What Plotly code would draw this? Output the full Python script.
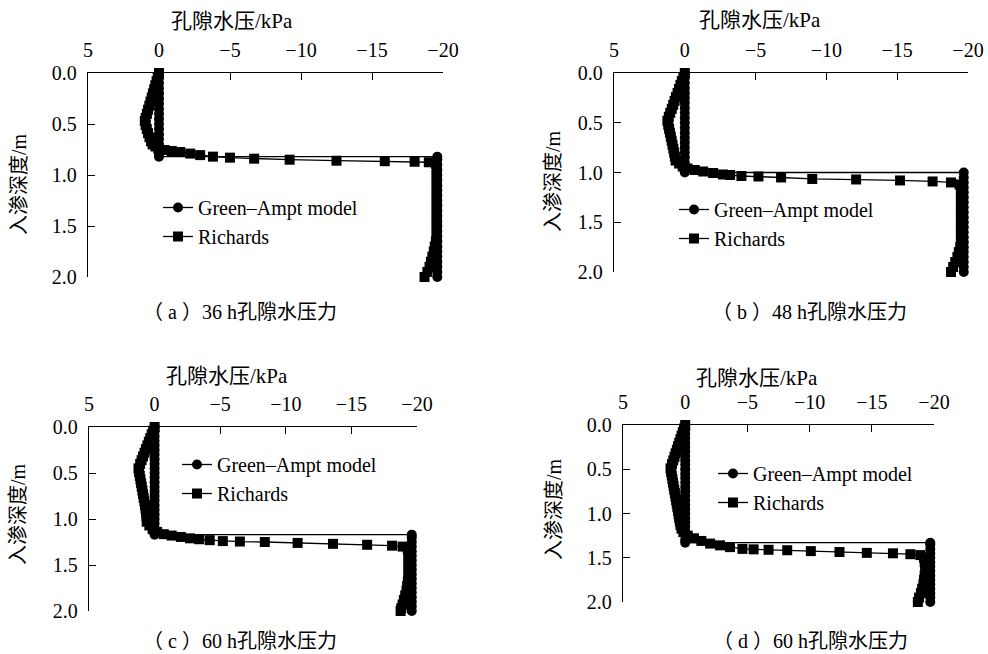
import plotly.graph_objects as go

# ---------------- text ----------------
X_TITLE = "孔隙水压/kPa"
Y_TITLE = "入渗深度/m"
SERIES_NAMES = ["Green–Ampt model", "Richards"]
CAPTIONS = ["（ a ）36 h孔隙水压力", "（ b ）48 h孔隙水压力", "（ c ）60 h孔隙水压力", "（ d ）60 h孔隙水压力"]
X_TICKS = [5, 0, -5, -10, -15, -20]
X_TICK_TEXT = ["5", "0", "−5", "−10", "−15", "−20"]
Y_TICKS = [0.0, 0.5, 1.0, 1.5, 2.0]
Y_TICK_TEXT = ["0.0", "0.5", "1.0", "1.5", "2.0"]

# ---------------- data: Green-Ampt model (pressure kPa, depth m) ----------------
GA_A_DEPTH = [0.00, 0.05, 0.10, 0.15, 0.20, 0.25, 0.30, 0.35, 0.40, 0.45, 0.50, 0.55, 0.60, 0.65, 0.70, 0.75, 0.80, 0.82,
              0.82, 0.85, 0.90, 0.95, 1.00, 1.05, 1.10, 1.15, 1.20, 1.25, 1.30, 1.35, 1.40, 1.45, 1.50, 1.55, 1.60, 1.65,
              1.70, 1.75, 1.80, 1.85, 1.90, 1.95, 2.00]
GA_A_PRESS = [0, 0, 0, 0, 0, 0, 0, 0, 0, 0, 0, 0, 0, 0, 0, 0, 0, 0,
              -19.6, -19.6, -19.6, -19.6, -19.6, -19.6, -19.6, -19.6, -19.6, -19.6, -19.6, -19.6, -19.6, -19.6, -19.6, -19.6, -19.6, -19.6,
              -19.6, -19.6, -19.6, -19.6, -19.6, -19.6, -19.6]

GA_B_DEPTH = [0.00, 0.05, 0.10, 0.15, 0.20, 0.25, 0.30, 0.35, 0.40, 0.45, 0.50, 0.55, 0.60, 0.65, 0.70, 0.75, 0.80, 0.85, 0.90, 0.95, 1.00,
              1.00, 1.05, 1.10, 1.15, 1.20, 1.25, 1.30, 1.35, 1.40, 1.45, 1.50, 1.55, 1.60, 1.65, 1.70, 1.75, 1.80, 1.85, 1.90, 1.95, 2.00]
GA_B_PRESS = [0, 0, 0, 0, 0, 0, 0, 0, 0, 0, 0, 0, 0, 0, 0, 0, 0, 0, 0, 0, 0,
              -19.7, -19.7, -19.7, -19.7, -19.7, -19.7, -19.7, -19.7, -19.7, -19.7, -19.7, -19.7, -19.7, -19.7, -19.7, -19.7, -19.7, -19.7, -19.7, -19.7, -19.7]

GA_C_DEPTH = [0.00, 0.05, 0.10, 0.15, 0.20, 0.25, 0.30, 0.35, 0.40, 0.45, 0.50, 0.55, 0.60, 0.65, 0.70, 0.75, 0.80, 0.85, 0.90, 0.95, 1.00, 1.05, 1.10, 1.15, 1.17,
              1.17, 1.20, 1.25, 1.30, 1.35, 1.40, 1.45, 1.50, 1.55, 1.60, 1.65, 1.70, 1.75, 1.80, 1.85, 1.90, 1.95, 2.00]
GA_C_PRESS = [0, 0, 0, 0, 0, 0, 0, 0, 0, 0, 0, 0, 0, 0, 0, 0, 0, 0, 0, 0, 0, 0, 0, 0, 0,
              -19.6, -19.6, -19.6, -19.6, -19.6, -19.6, -19.6, -19.6, -19.6, -19.6, -19.6, -19.6, -19.6, -19.6, -19.6, -19.6, -19.6, -19.6]

GA_D_DEPTH = [0.00, 0.05, 0.10, 0.15, 0.20, 0.25, 0.30, 0.35, 0.40, 0.45, 0.50, 0.55, 0.60, 0.65, 0.70, 0.75, 0.80, 0.85, 0.90, 0.95, 1.00, 1.05, 1.10, 1.15, 1.20, 1.25, 1.30, 1.33,
              1.33, 1.35, 1.40, 1.45, 1.50, 1.55, 1.60, 1.65, 1.70, 1.75, 1.80, 1.85, 1.90, 1.95, 2.00]
GA_D_PRESS = [0, 0, 0, 0, 0, 0, 0, 0, 0, 0, 0, 0, 0, 0, 0, 0, 0, 0, 0, 0, 0, 0, 0, 0, 0, 0, 0, 0,
              -19.7, -19.7, -19.7, -19.7, -19.7, -19.7, -19.7, -19.7, -19.7, -19.7, -19.7, -19.7, -19.7, -19.7, -19.7]

# ---------------- data: Richards (pressure kPa, depth m) ----------------
R_A_PRESS = [0.00, 0.09, 0.17, 0.26, 0.34, 0.43, 0.51, 0.60, 0.68, 0.77, 0.85, 0.94, 1.00,
             0.94, 0.86, 0.77, 0.67, 0.56, 0.45, 0.25, 0.05,
             -0.40, -0.90, -1.50, -2.20, -2.90, -3.80, -5.00, -6.70, -9.20, -12.50, -15.90, -18.00, -19.00, -19.50,
             -19.55, -19.55, -19.55, -19.55, -19.55, -19.55, -19.55, -19.55, -19.55, -19.55, -19.55, -19.55, -19.55, -19.55,
             -19.50, -19.42, -19.35, -19.25, -19.15, -19.05, -18.90, -18.70]
R_A_DEPTH = [0.00, 0.04, 0.08, 0.12, 0.16, 0.20, 0.24, 0.28, 0.32, 0.36, 0.40, 0.44, 0.47,
             0.51, 0.55, 0.59, 0.63, 0.67, 0.70, 0.72, 0.74,
             0.755, 0.765, 0.775, 0.79, 0.805, 0.82, 0.83, 0.84, 0.85, 0.86, 0.865, 0.87, 0.875, 0.89,
             0.95, 1.00, 1.05, 1.10, 1.15, 1.20, 1.25, 1.30, 1.35, 1.40, 1.45, 1.50, 1.55, 1.60,
             1.65, 1.70, 1.75, 1.80, 1.85, 1.90, 1.95, 2.00]

R_B_PRESS = [0.00, 0.10, 0.21, 0.31, 0.41, 0.51, 0.62, 0.72, 0.82, 0.92, 1.03, 1.13, 1.23,
             1.17, 1.11, 1.05, 0.99, 0.93, 0.87, 0.81, 0.75, 0.70, 0.65, 0.40, 0.15,
             -0.20, -0.70, -1.30, -2.00, -2.70, -3.20, -4.00, -5.20, -6.80, -9.00, -12.10, -15.20, -17.50, -18.80, -19.40,
             -19.50, -19.50, -19.50, -19.50, -19.50, -19.50, -19.50, -19.50, -19.50, -19.50, -19.50, -19.50,
             -19.45, -19.35, -19.25, -19.10, -18.95, -18.80]
R_B_DEPTH = [0.00, 0.04, 0.08, 0.12, 0.16, 0.20, 0.24, 0.28, 0.32, 0.36, 0.40, 0.44, 0.48,
             0.52, 0.56, 0.60, 0.64, 0.68, 0.72, 0.76, 0.80, 0.84, 0.88, 0.91, 0.94,
             0.96, 0.975, 0.99, 1.005, 1.02, 1.025, 1.035, 1.04, 1.05, 1.065, 1.07, 1.08, 1.09, 1.10, 1.12,
             1.15, 1.20, 1.25, 1.30, 1.35, 1.40, 1.45, 1.50, 1.55, 1.60, 1.65, 1.70,
             1.75, 1.80, 1.85, 1.90, 1.95, 2.00]

R_C_PRESS = [0.00, 0.11, 0.22, 0.33, 0.44, 0.55, 0.66, 0.77, 0.88, 0.99, 1.10, 1.23,
             1.18, 1.13, 1.08, 1.03, 0.98, 0.93, 0.88, 0.83, 0.78, 0.73, 0.69, 0.65, 0.62, 0.60, 0.40, 0.15,
             -0.20, -0.70, -1.30, -2.00, -2.70, -3.40, -4.20, -5.20, -6.50, -8.40, -10.90, -13.60, -16.20, -18.10, -18.90, -19.30,
             -19.35, -19.35, -19.35, -19.35, -19.35, -19.35,
             -19.30, -19.25, -19.20, -19.10, -19.00, -18.90, -18.80, -18.75]
R_C_DEPTH = [0.00, 0.04, 0.08, 0.12, 0.16, 0.20, 0.24, 0.28, 0.32, 0.36, 0.40, 0.45,
             0.49, 0.53, 0.57, 0.61, 0.65, 0.69, 0.73, 0.77, 0.81, 0.85, 0.89, 0.93, 0.97, 1.03, 1.07, 1.11,
             1.14, 1.165, 1.18, 1.195, 1.21, 1.22, 1.23, 1.24, 1.245, 1.25, 1.26, 1.27, 1.28, 1.29, 1.30, 1.33,
             1.38, 1.43, 1.48, 1.53, 1.58, 1.63,
             1.68, 1.73, 1.78, 1.83, 1.88, 1.93, 1.97, 2.00]

R_D_PRESS = [0.00, 0.10, 0.19, 0.29, 0.38, 0.48, 0.58, 0.67, 0.77, 0.86, 0.96, 1.06, 1.18,
             1.13, 1.08, 1.03, 0.98, 0.93, 0.88, 0.83, 0.78, 0.73, 0.68, 0.63, 0.58, 0.53, 0.48, 0.43, 0.38, 0.30, 0.15,
             -0.20, -0.70, -1.30, -2.00, -2.80, -3.60, -4.60, -5.50, -6.70, -8.20, -10.10, -12.40, -14.60, -16.70, -18.10, -18.90,
             -19.20, -19.25, -19.30, -19.30, -19.25, -19.20, -19.15, -19.05, -18.95, -18.80, -18.70]
R_D_DEPTH = [0.00, 0.04, 0.08, 0.12, 0.16, 0.20, 0.24, 0.28, 0.32, 0.36, 0.40, 0.44, 0.49,
             0.53, 0.57, 0.61, 0.65, 0.69, 0.73, 0.77, 0.81, 0.85, 0.89, 0.93, 0.97, 1.01, 1.05, 1.09, 1.13, 1.17, 1.21,
             1.25, 1.28, 1.31, 1.34, 1.36, 1.38, 1.40, 1.405, 1.41, 1.415, 1.425, 1.435, 1.445, 1.45, 1.46, 1.47,
             1.50, 1.55, 1.60, 1.65, 1.70, 1.75, 1.80, 1.85, 1.90, 1.95, 2.00]

# ---------------- layout geometry (window pixels, 988x654) ----------------
W, H = 988, 654
FONT = "Liberation Serif, Noto Sans CJK SC, serif"
TICK_SIZE = 20
LEG_SIZE = 20
TITLE_SIZE = 21
CAP_SIZE = 20


def fx(px):
    return px / W


def fy(py):
    return 1 - py / H


panels = [
    dict(px=(88, 443), py=(73, 277), leg=(200, 208), xt=(232, 21), yt=(19, 184), cap=(240, 312),
         ga=(GA_A_PRESS, GA_A_DEPTH), r=(R_A_PRESS, R_A_DEPTH)),
    dict(px=(614, 968), py=(73, 272), leg=(716, 210), xt=(760, 20), yt=(553, 181), cap=(809, 312),
         ga=(GA_B_PRESS, GA_B_DEPTH), r=(R_B_PRESS, R_B_DEPTH)),
    dict(px=(89, 417), py=(427, 611), leg=(219, 465), xt=(227, 376), yt=(18, 514), cap=(240, 641),
         ga=(GA_C_PRESS, GA_C_DEPTH), r=(R_C_PRESS, R_C_DEPTH)),
    dict(px=(623, 934), py=(425, 602), leg=(755, 474), xt=(757, 378), yt=(554, 509), cap=(810, 641),
         ga=(GA_D_PRESS, GA_D_DEPTH), r=(R_D_PRESS, R_D_DEPTH)),
]

fig = go.Figure()
layout = dict(width=W, height=H, margin=dict(l=0, r=0, t=0, b=0, autoexpand=False),
              paper_bgcolor="white", plot_bgcolor="white", showlegend=True,
              font=dict(family=FONT, size=18, color="black"))
annotations = []

for i, p in enumerate(panels):
    n = "" if i == 0 else str(i + 1)
    xref, yref = "x" + n, "y" + n
    legname = "legend" + n
    gp, gd = p["ga"]
    rp, rd = p["r"]
    fig.add_trace(go.Scatter(x=gp, y=gd, mode="lines+markers", name=SERIES_NAMES[0],
                             xaxis=xref, yaxis=yref, legend=legname, cliponaxis=False,
                             line=dict(color="black", width=1.3),
                             marker=dict(symbol="circle", size=10, color="black")))
    fig.add_trace(go.Scatter(x=rp, y=rd, mode="lines+markers", name=SERIES_NAMES[1],
                             xaxis=xref, yaxis=yref, legend=legname, cliponaxis=False,
                             line=dict(color="black", width=1.3),
                             marker=dict(symbol="square", size=10, color="black")))
    x0, x1 = p["px"]
    yt0, yb0 = p["py"]
    layout["xaxis" + n] = dict(domain=[fx(x0), fx(x1)], anchor=yref, side="top", range=[5, -20],
                               tickvals=X_TICKS, ticktext=X_TICK_TEXT, ticks="inside", ticklen=7,
                               tickwidth=1.3, tickcolor="black", showline=True, linecolor="black",
                               linewidth=1.3, showgrid=False, zeroline=False, ticklabelstandoff=7,
                               automargin=False,
                               tickfont=dict(family=FONT, size=TICK_SIZE, color="black"))
    layout["yaxis" + n] = dict(domain=[fy(yb0), fy(yt0)], anchor=xref, range=[2.0, 0.0],
                               tickvals=Y_TICKS, ticktext=Y_TICK_TEXT, ticks="inside", ticklen=7,
                               tickwidth=1.3, tickcolor="black", showline=True, linecolor="black",
                               linewidth=1.3, showgrid=False, zeroline=False, ticklabelstandoff=6,
                               automargin=False,
                               tickfont=dict(family=FONT, size=TICK_SIZE, color="black"))
    lx, ly = p["leg"]
    layout[legname] = dict(x=fx(lx - 42), y=fy(ly - 20), xanchor="left", yanchor="top",
                           bgcolor="rgba(0,0,0,0)", borderwidth=0, tracegroupgap=0,
                           font=dict(family=FONT, size=LEG_SIZE, color="black"))
    tx, ty = p["xt"]
    annotations.append(dict(text=X_TITLE, x=fx(tx), y=fy(ty), xref="paper", yref="paper",
                            showarrow=False, xanchor="center", yanchor="middle",
                            font=dict(family=FONT, size=TITLE_SIZE, color="black")))
    ax, ay = p["yt"]
    annotations.append(dict(text=Y_TITLE, x=fx(ax), y=fy(ay), xref="paper", yref="paper",
                            showarrow=False, xanchor="center", yanchor="middle", textangle=-90,
                            font=dict(family=FONT, size=CAP_SIZE, color="black")))
    cx, cy = p["cap"]
    annotations.append(dict(text=CAPTIONS[i], x=fx(cx), y=fy(cy), xref="paper", yref="paper",
                            showarrow=False, xanchor="center", yanchor="middle",
                            font=dict(family=FONT, size=CAP_SIZE, color="black")))

layout["annotations"] = annotations
fig.update_layout(**layout)
# remove the browser's default 8 px body margin so the 988x654 figure fills the window exactly
fig.write_html("out.html",
               config={"displayModeBar": False},
               post_script="document.body.style.margin='0';document.body.style.overflow='hidden';")
